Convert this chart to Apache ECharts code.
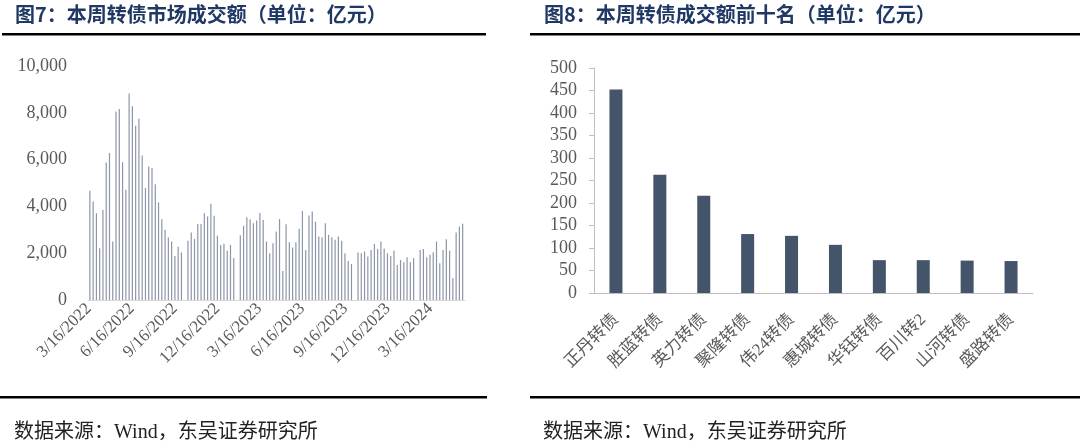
<!DOCTYPE html>
<html>
  <head>
    <meta charset="utf-8" />
    <script src="https://cdn.jsdelivr.net/npm/echarts@6/dist/echarts.min.js"></script>
    <style>
      body {
        margin: 0;
        background: #fff;
      }

      #main {
        width: 1080px;
        height: 446px;
      }
    </style>
  </head>
  <body>
    <div id="main"></div>
    <script>
      // 图7: weekly market turnover, one value per Friday (null = holiday week)
      const firstWeek = '2022-03-18';
      const weeklyTurnover = [
        4670, 4210, 3710, 2210, 3850, 5880, 6280, 2500, 8060, 8160,
        5890, 4710, 8820, 8280, 7450, 7750, 6170, 4780, 5710, 5640,
        4950, 4170, 3450, 3000, 2670, 2500, 1880, 2280, 2030, null,
        2530, 2880, 2610, 3250, 3250, 3710, 3570, 4110, 3600, 2750,
        2350, 2400, 2100, 2350, 1800, null, 2770, 3170, 3540, 3450,
        3280, 3400, 3720, 3420, 2500, 2000, 2430, 2930, 3460, 1240,
        3240, 2470, 2240, 2470, 3040, 3810, 2140, 3610, 3780, 3350,
        2710, 2680, 3280, 2780, 2680, 2570, 2710, 2530, 2000, 1670,
        1540, null, 2030, 2000, 2070, 1860, 2140, 2390, 2180, 2500,
        2200, 2000, 1880, 2110, 1500, 1710, 1610, 1830, 1610, 1800,
        null, 2140, 2180, 1830, 1930, 2040, 2500, 1570, 2140, 2600,
        2110, 930, 2880, 3140, 3260
      ];
      const dateTicks = [
        '2022-03-16', '2022-06-16', '2022-09-16', '2022-12-16', '2023-03-16',
        '2023-06-16', '2023-09-16', '2023-12-16', '2024-03-16'
      ];

      // 图8: top ten bonds by weekly turnover
      const bondNames = [
        '正丹转债', '胜蓝转债', '英力转债', '聚隆转债', '伟24转债',
        '惠城转债', '华钰转债', '百川转2', '山河转债', '盛路转债'
      ];
      const bondTurnover = [452, 263, 216, 131, 127, 107, 73, 73, 72, 71];

      const DAY = 24 * 3600 * 1000;
      const toTime = (d) => new Date(d + 'T00:00:00').getTime();
      const t0 = toTime(firstWeek);
      const weeklyData = weeklyTurnover.map((v, i) => [t0 + i * 7 * DAY, v]);
      const tickValues = dateTicks.map(toTime);

      const serif = "'Liberation Serif', 'Times New Roman', 'Noto Sans CJK SC', serif";
      const titleColor = '#1f3864';
      const labelColor = '#595959';

      const chart = echarts.init(document.getElementById('main'));

      chart.setOption({
        animation: false,
        grid: [
          { left: 88, top: 66, width: 377, height: 234 },
          { left: 594, top: 68, width: 439, height: 225 }
        ],
        xAxis: [
          {
            gridIndex: 0,
            type: 'value',
            min: toTime('2022-03-14'),
            max: toTime('2024-05-29'),
            scale: true,
            splitLine: { show: false },
            axisLine: { show: true, onZero: false, lineStyle: { color: '#d9d9d9' } },
            axisTick: { show: false },
            axisLabel: {
              customValues: tickValues,
              rotate: 45,
              margin: 6,
              color: labelColor,
              fontFamily: serif,
              fontSize: 17,
              formatter: (v) => {
                const d = new Date(v);
                return d.getMonth() + 1 + '/' + d.getDate() + '/' + d.getFullYear();
              }
            }
          },
          {
            gridIndex: 1,
            type: 'category',
            data: bondNames,
            axisLine: { lineStyle: { color: '#bfbfbf' } },
            axisTick: { length: 5, lineStyle: { color: '#bfbfbf' } },
            axisLabel: {
              interval: 0,
              rotate: 45,
              margin: 24,
              color: labelColor,
              fontFamily: serif,
              fontSize: 17
            }
          }
        ],
        yAxis: [
          {
            gridIndex: 0,
            type: 'value',
            min: 0,
            max: 10000,
            interval: 2000,
            splitLine: { show: false },
            axisLine: { show: false },
            axisTick: { show: false },
            axisLabel: {
              margin: 21,
              color: labelColor,
              fontFamily: serif,
              fontSize: 18,
              formatter: (v) => v.toLocaleString('en-US')
            }
          },
          {
            gridIndex: 1,
            type: 'value',
            min: 0,
            max: 500,
            interval: 50,
            splitLine: { show: false },
            axisLine: { show: true, lineStyle: { color: '#bfbfbf' } },
            axisTick: { show: true, length: 5, lineStyle: { color: '#bfbfbf' } },
            axisLabel: {
              margin: 17,
              color: labelColor,
              fontFamily: serif,
              fontSize: 18
            }
          }
        ],
        series: [
          {
            type: 'bar',
            xAxisIndex: 0,
            yAxisIndex: 0,
            data: weeklyData,
            barWidth: 1.2,
            itemStyle: { color: '#8c96a8' }
          },
          {
            type: 'bar',
            xAxisIndex: 1,
            yAxisIndex: 1,
            data: bondTurnover,
            barWidth: 13,
            itemStyle: { color: '#44546a' }
          }
        ],
        graphic: [
          {
            type: 'text',
            left: 15,
            top: 4,
            style: {
              text: '图7：本周转债市场成交额（单位：亿元）',
              font: "bold 20px 'Noto Sans CJK SC'",
              fill: titleColor
            }
          },
          {
            type: 'text',
            left: 544,
            top: 4,
            style: {
              text: '图8：本周转债成交额前十名（单位：亿元）',
              font: "bold 20px 'Noto Sans CJK SC'",
              fill: titleColor
            }
          },
          { type: 'rect', shape: { x: 2, y: 33, width: 484, height: 2.5 }, style: { fill: '#000' } },
          { type: 'rect', shape: { x: 530, y: 33, width: 550, height: 2.5 }, style: { fill: '#000' } },
          { type: 'rect', shape: { x: 0, y: 396, width: 487, height: 2.5 }, style: { fill: '#000' } },
          { type: 'rect', shape: { x: 530, y: 396, width: 550, height: 2.5 }, style: { fill: '#000' } },
          {
            type: 'text',
            left: 14,
            top: 423,
            style: {
              text: '数据来源：Wind，东吴证券研究所',
              font: "20px 'Liberation Serif', 'Noto Sans CJK SC'",
              fill: '#222'
            }
          },
          {
            type: 'text',
            left: 543,
            top: 423,
            style: {
              text: '数据来源：Wind，东吴证券研究所',
              font: "20px 'Liberation Serif', 'Noto Sans CJK SC'",
              fill: '#222'
            }
          }
        ]
      });
    </script>
  </body>
</html>
